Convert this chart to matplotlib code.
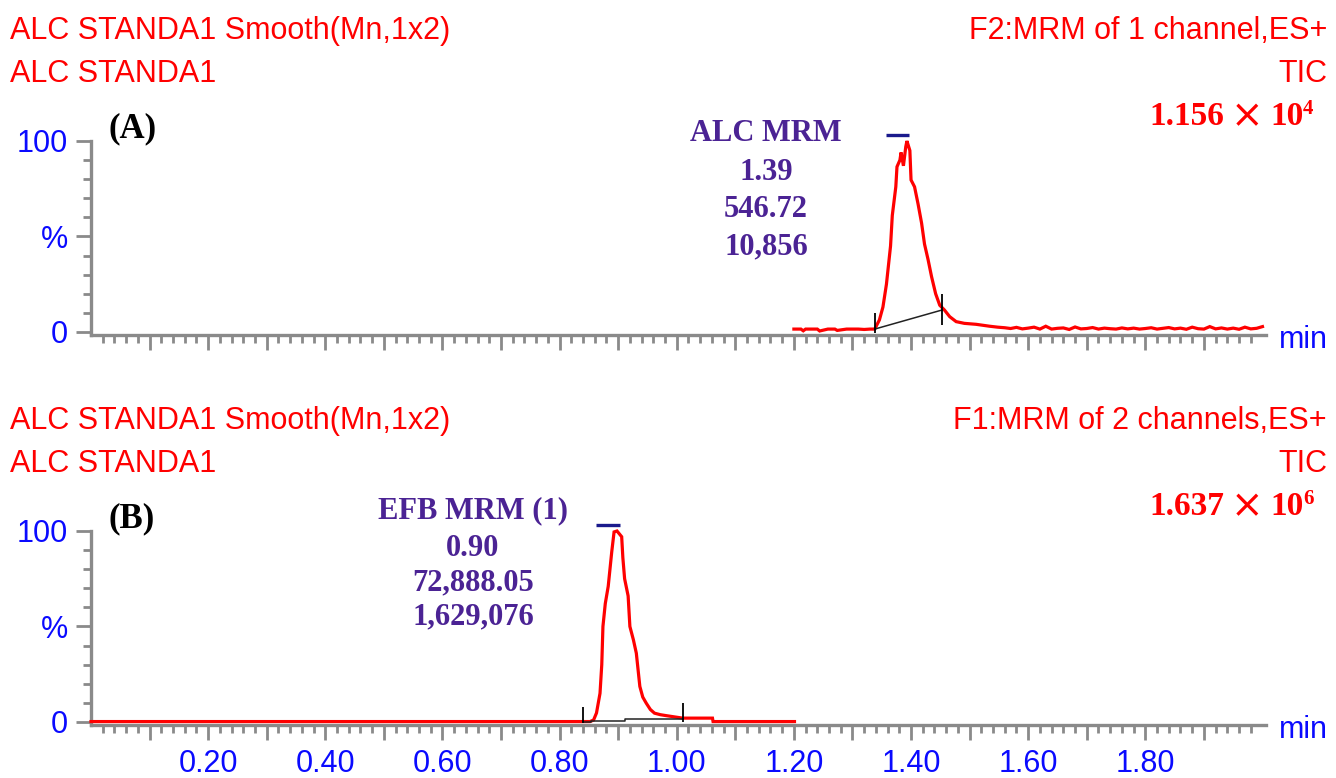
import matplotlib
matplotlib.use("Agg")
import matplotlib.pyplot as plt
from matplotlib.ticker import FixedLocator

W, H = 1336, 778
DPI = 100

# ---------------- data ----------------
# Panel A (ALC, F2 TIC)
tA = [1.200, 1.212, 1.216, 1.220, 1.232, 1.240, 1.244, 1.258, 1.270, 1.274, 1.290,
      1.310, 1.320, 1.330, 1.338, 1.346, 1.352, 1.358, 1.365, 1.368, 1.374, 1.376,
      1.381, 1.383, 1.387, 1.391, 1.393, 1.398, 1.400, 1.406, 1.412, 1.418, 1.423,
      1.429, 1.435, 1.442, 1.449, 1.457, 1.466, 1.477, 1.491, 1.511, 1.534, 1.548,
      1.56, 1.57, 1.58, 1.59, 1.60, 1.61, 1.62, 1.63, 1.64, 1.65, 1.66, 1.67, 1.68,
      1.69, 1.70, 1.71, 1.72, 1.73, 1.74, 1.75, 1.76, 1.77, 1.78, 1.79, 1.80, 1.81,
      1.82, 1.83, 1.84, 1.85, 1.86, 1.87, 1.88, 1.89, 1.90, 1.91, 1.92, 1.93, 1.94,
      1.95, 1.96, 1.97, 1.98, 1.99, 2.00]
yA = [1.5, 1.5, 0.6, 1.5, 1.5, 1.5, 0.5, 1.5, 1.5, 0.8, 1.5,
      1.5, 1.3, 1.5, 1.5, 6.3, 13.0, 25.0, 45.0, 61.0, 76.0, 86.5,
      90.0, 94.0, 87.0, 97.0, 100.0, 95.0, 79.6, 76.0, 67.0, 57.0, 46.0,
      38.0, 29.0, 20.0, 14.0, 11.5, 8.0, 5.4, 4.5, 4.0, 3.0, 2.5,
      2.2, 1.8, 2.4, 1.6, 2.0, 2.5, 1.5, 3.0, 1.5, 1.9, 2.1, 1.3, 2.6,
      1.6, 1.8, 2.3, 1.5, 2.0, 1.7, 1.5, 2.1, 1.6, 2.0, 1.5, 1.8, 2.2,
      1.5, 1.9, 2.3, 1.6, 2.0, 1.4, 2.5, 1.7, 1.5, 2.8, 1.6, 2.1, 1.5,
      2.0, 1.4, 2.5, 1.6, 1.9, 2.8]
intA_t = [1.338, 1.453]
intA_y = [1.5, 11.5]
markA_t = [1.338, 1.453]
markA_lo = [-0.5, 3.7]
markA_hi = [10.0, 20.0]
barA_t = [1.358, 1.396]

# Panel B (EFB, F1 TIC)
tB = [0.000, 0.852, 0.858, 0.863, 0.869, 0.872, 0.874, 0.878, 0.883, 0.889, 0.893,
      0.898, 0.906, 0.908, 0.911, 0.917, 0.920, 0.926, 0.931, 0.937, 0.942, 0.948,
      0.955, 0.962, 0.972, 0.982, 1.010, 1.061, 1.062, 1.201]
yB = [0.2, 0.2, 1.0, 4.7, 15.0, 30.0, 50.0, 62.0, 71.0, 89.0, 99.5,
      100.0, 97.0, 86.0, 75.0, 66.0, 50.0, 43.0, 36.0, 18.6, 13.0, 9.8,
      6.5, 4.6, 3.8, 3.3, 2.0, 2.0, 0.2, 0.2]
intB_t = [0.840, 0.854, 0.854, 0.911, 0.911, 1.010]
intB_y = [0.2, 0.2, 0.7, 0.7, 1.5, 1.5]
markB_t = [0.840, 1.010]
markB_lo = [-0.5, 0.0]
markB_hi = [8.0, 10.0]
barB_t = [0.863, 0.903]

x_major = [0.1 * i for i in range(1, 20)]
x_labels = ["%.2f" % v if i % 2 == 1 else "" for i, v in enumerate(x_major)]
x_minor = [0.02 * i for i in range(1, 100) if i % 5 != 0]
y_major = [0, 50, 100]
y_labels = ["0", "%", "100"]
y_minor = [10, 20, 30, 40, 60, 70, 80, 90]

headA = ["ALC STANDA1 Smooth(Mn,1x2)", "ALC STANDA1"]
headA_r = ["F2:MRM of 1 channel,ES+", "TIC"]
scaleA = ("1.156", "10", "4")
peakA_lines = ["ALC MRM", "1.39", "546.72", "10,856"]

headB = ["ALC STANDA1 Smooth(Mn,1x2)", "ALC STANDA1"]
headB_r = ["F1:MRM of 2 channels,ES+", "TIC"]
scaleB = ("1.637", "10", "6")
peakB_lines = ["EFB MRM (1)", "0.90", "72,888.05", "1,629,076"]

# ---------------- style ----------------
RED = "#ff0000"
BLUE = "#0a0aff"
PURPLE = "#4b2394"
NAVY = "#1a1a8c"
GRAY = "#8a8a8a"
SANS = "Liberation Sans"
SERIF = "Liberation Serif"


def fx(x):
    return x / W


def fy(y):
    return 1 - y / H


fig = plt.figure(figsize=(W / DPI, H / DPI), dpi=DPI)
fig.patch.set_facecolor("white")


def make_axes(top_px):
    bottom_px = top_px + 194
    ax = fig.add_axes([fx(91), fy(bottom_px), (1266 - 91) / W, 194 / H])
    ax.set_xlim(0, 2.006)
    ax.set_ylim(-1.6, 100)
    for s in ("top", "right"):
        ax.spines[s].set_visible(False)
    for s in ("left", "bottom"):
        ax.spines[s].set_color(GRAY)
        ax.spines[s].set_linewidth(2.4)
    ax.xaxis.set_major_locator(FixedLocator(x_major))
    ax.xaxis.set_minor_locator(FixedLocator(x_minor))
    ax.yaxis.set_major_locator(FixedLocator(y_major))
    ax.yaxis.set_minor_locator(FixedLocator(y_minor))
    ax.set_yticklabels(y_labels)
    ax.tick_params(axis="both", which="major", direction="out", length=10.5,
                   width=2.0, color=GRAY, labelcolor=BLUE, labelsize=22)
    ax.tick_params(axis="both", which="minor", direction="out", length=5.5,
                   width=2.0, color=GRAY)
    ax.tick_params(axis="y", which="major", pad=6)
    ax.tick_params(axis="x", which="major", pad=7)
    for lab in ax.get_yticklabels() + ax.get_xticklabels():
        lab.set_fontfamily(SANS)
    ax.patch.set_alpha(0)
    return ax


def headers(off, left_lines, right_lines, scale, tag, peak_lines, peak_x, peak_base):
    fig.text(fx(10), fy(39 + off), left_lines[0], color=RED, fontsize=22,
             family=SANS, ha="left", va="baseline")
    fig.text(fx(10), fy(82 + off), left_lines[1], color=RED, fontsize=22,
             family=SANS, ha="left", va="baseline")
    fig.text(fx(1327), fy(39 + off), right_lines[0], color=RED, fontsize=22,
             family=SANS, ha="right", va="baseline")
    fig.text(fx(1327), fy(82 + off), right_lines[1], color=RED, fontsize=22,
             family=SANS, ha="right", va="baseline")
    fig.text(fx(1224), fy(125 + off), scale[0], color=RED, fontsize=24,
             family=SERIF, weight="bold", ha="right", va="baseline")
    fig.text(fx(1247), fy(116 + off), "\u00d7", color=RED, fontsize=28,
             family="DejaVu Sans", ha="center", va="center")
    fig.text(fx(1270), fy(125 + off), scale[1], color=RED, fontsize=24,
             family=SERIF, weight="bold", ha="left", va="baseline")
    fig.text(fx(1303), fy(114 + off), scale[2], color=RED, fontsize=15,
             family=SERIF, weight="bold", ha="left", va="baseline")
    fig.text(fx(108), fy(137 + off), tag, color="black", fontsize=25,
             family=SERIF, weight="bold", ha="left", va="baseline")
    for ln, b in zip(peak_lines, peak_base):
        fig.text(fx(peak_x), fy(b + off), ln, color=PURPLE, fontsize=22,
                 family=SERIF, weight="bold", ha="center", va="baseline")


def draw_panel(ax, t, y, it, iy, mt, mlo, mhi, bar, spine_y):
    ax.plot(t, y, color=RED, lw=2.3, solid_joinstyle="miter", zorder=3,
            clip_on=False)
    ax.plot(it, iy, color="#222222", lw=1.1, zorder=4)
    ax.vlines(mt, mlo, mhi, color="black", lw=1.3, zorder=4)
    ax.plot(bar, [103, 103], color=NAVY, lw=2.4, clip_on=False,
            solid_capstyle="butt")
    fig.text(fx(1279), fy(spine_y + 5), "min", color=BLUE, fontsize=22,
             family=SANS, ha="left", va="center")


axA = make_axes(141)
axA.set_xticklabels([])
draw_panel(axA, tA, yA, intA_t, intA_y, markA_t, markA_lo, markA_hi, barA_t, 335)
headers(0, headA, headA_r, scaleA, "(A)", peakA_lines, 766, [141, 180, 217, 254])

axB = make_axes(531)
axB.set_xticklabels(x_labels)
for lab in axB.get_xticklabels():
    lab.set_fontfamily(SANS)
draw_panel(axB, tB, yB, intB_t, intB_y, markB_t, markB_lo, markB_hi, barB_t, 725)
headers(390, headB, headB_r, scaleB, "(B)", peakB_lines, 473, [128, 166, 200, 234])

fig.savefig("out.png", dpi=DPI)
